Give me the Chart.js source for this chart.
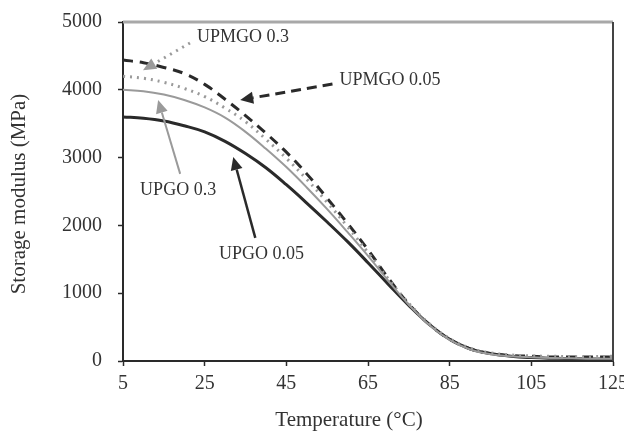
<!DOCTYPE html>
<html>
<head>
<meta charset="utf-8">
<script src="https://cdn.jsdelivr.net/npm/chart.js@4.4.0/dist/chart.umd.min.js"></script>
<style>
  html, body { margin: 0; padding: 0; background: #fff; }
  #wrap { width: 624px; height: 431px; position: relative; }
</style>
</head>
<body>
<div id="wrap"><canvas id="dma"></canvas></div>
<script>
'use strict';

// ─── DATA ────────────────────────────────────────────────────────────────────
const temps    = [5, 10, 15, 20, 25, 30, 35, 40, 45, 50, 55, 60, 65, 70, 75, 80, 85, 90, 95, 100, 105, 110, 115, 120, 125];
const upgo005  = [3600, 3580, 3540, 3470, 3380, 3240, 3060, 2850, 2600, 2330, 2050, 1760, 1450, 1130, 820, 540, 320, 180, 110, 70, 50, 40, 35, 30, 30];
const upgo03   = [4000, 3980, 3930, 3850, 3740, 3590, 3380, 3130, 2860, 2560, 2240, 1900, 1550, 1180, 830, 530, 310, 170, 100, 70, 55, 45, 40, 35, 35];
const upmgo03  = [4200, 4170, 4110, 4020, 3900, 3730, 3530, 3270, 2990, 2680, 2340, 1980, 1600, 1210, 850, 550, 330, 190, 120, 90, 75, 70, 65, 65, 70];
const upmgo005 = [4440, 4400, 4330, 4240, 4080, 3860, 3620, 3360, 3080, 2760, 2400, 2030, 1640, 1220, 840, 540, 320, 180, 110, 80, 70, 60, 60, 60, 60];
const xTicks   = [5, 25, 45, 65, 85, 105, 125];
const yTicks   = [0, 1000, 2000, 3000, 4000, 5000];

const SERIF = "'Liberation Serif', 'DejaVu Serif', serif";
const INK = '#2a2a2a';
const GREY = '#9a9a9a';
const TEXT = '#333';

const pts = vals => temps.map((t, i) => ({ x: t, y: vals[i] }));

// callouts: text anchor and arrow (tail -> head) in data units
const CALLOUTS = [
  { text: 'UPMGO 0.3',  tx: 34.4, ty: 4780, align: 'center', from: [21.4, 4690], to: [9.9, 4290],  color: GREY, width: 3,   dash: [2, 5] },
  { text: 'UPMGO 0.05', tx: 58.0, ty: 4145, align: 'left',   from: [56.3, 4085], to: [33.7, 3850], color: INK,  width: 3,   dash: [10, 6] },
  { text: 'UPGO 0.3',   tx: 18.5, ty: 2520, align: 'center', from: [19.0, 2760], to: [13.6, 3850], color: GREY, width: 2,   dash: [] },
  { text: 'UPGO 0.05',  tx: 38.9, ty: 1580, align: 'center', from: [37.4, 1815], to: [32.0, 3010], color: INK,  width: 2.5, dash: [] }
];

// ─── PLUGINS ─────────────────────────────────────────────────────────────────
// plot frame (grey top edge, dark right edge) + axis titles placed off-centre like the original
const frame = {
  id: 'frame',
  afterDatasetsDraw(chart) {
    const { ctx, chartArea: a } = chart;
    ctx.save();
    ctx.lineWidth = 3;
    ctx.strokeStyle = '#a8a8a8';
    ctx.beginPath(); ctx.moveTo(a.left, a.top); ctx.lineTo(a.right, a.top); ctx.stroke();
    ctx.lineWidth = 2;
    ctx.strokeStyle = '#444';
    ctx.beginPath(); ctx.moveTo(a.right, a.top); ctx.lineTo(a.right, a.bottom); ctx.stroke();

    ctx.font = '21px ' + SERIF;
    ctx.fillStyle = TEXT;
    ctx.textAlign = 'center';
    ctx.textBaseline = 'middle';
    ctx.fillText('Temperature (°C)', a.left + 226, a.bottom + 59);
    ctx.translate(19, a.top + 172);
    ctx.rotate(-Math.PI / 2);
    ctx.fillText('Storage modulus (MPa)', 0, 0);
    ctx.restore();
  }
};

const callouts = {
  id: 'callouts',
  afterDatasetsDraw(chart) {
    const { ctx, scales: { x, y } } = chart;
    ctx.save();
    CALLOUTS.forEach(c => {
      const x0 = x.getPixelForValue(c.from[0]), y0 = y.getPixelForValue(c.from[1]);
      const x1 = x.getPixelForValue(c.to[0]),   y1 = y.getPixelForValue(c.to[1]);
      const ang = Math.atan2(y1 - y0, x1 - x0);
      const head = 13, half = 6;
      const bx = x1 - Math.cos(ang) * head, by = y1 - Math.sin(ang) * head;
      ctx.strokeStyle = c.color;
      ctx.fillStyle = c.color;
      ctx.lineWidth = c.width;
      ctx.setLineDash(c.dash);
      ctx.beginPath(); ctx.moveTo(x0, y0); ctx.lineTo(bx, by); ctx.stroke();
      ctx.setLineDash([]);
      ctx.beginPath();
      ctx.moveTo(x1, y1);
      ctx.lineTo(bx + Math.sin(ang) * half, by - Math.cos(ang) * half);
      ctx.lineTo(bx - Math.sin(ang) * half, by + Math.cos(ang) * half);
      ctx.closePath(); ctx.fill();

      ctx.font = '18px ' + SERIF;
      ctx.fillStyle = TEXT;
      ctx.textAlign = c.align;
      ctx.textBaseline = 'middle';
      ctx.fillText(c.text, x.getPixelForValue(c.tx), y.getPixelForValue(c.ty));
    });
    ctx.restore();
  }
};

// ─── CHART ───────────────────────────────────────────────────────────────────
function line(label, vals, color, width, dash) {
  return {
    label, data: pts(vals),
    borderColor: color, backgroundColor: color,
    borderWidth: width, borderDash: dash,
    pointRadius: 0, tension: 0.4, fill: false
  };
}

new Chart(document.getElementById('dma'), {
  type: 'line',
  data: {
    datasets: [
      line('UPGO 0.3', upgo03, GREY, 2, []),
      line('UPMGO 0.3', upmgo03, GREY, 3, [2, 5]),
      line('UPGO 0.05', upgo005, INK, 3, []),
      line('UPMGO 0.05', upmgo005, INK, 3, [10, 7])
    ]
  },
  options: {
    responsive: true,
    maintainAspectRatio: false,
    animation: false,
    layout: { padding: { top: 22, right: 11, left: 0, bottom: 0 } },
    plugins: { legend: { display: false }, tooltip: { enabled: false } },
    scales: {
      x: {
        type: 'linear', min: 5, max: 125,
        afterBuildTicks: s => { s.ticks = xTicks.map(v => ({ value: v })); },
        afterFit: s => { s.height = 70; s.paddingLeft = 0; s.paddingRight = 0; },
        grid: { drawOnChartArea: false, tickLength: 5, color: INK, tickWidth: 1.5 },
        border: { color: INK, width: 2 },
        ticks: { color: TEXT, padding: 6, maxRotation: 0, font: { family: SERIF, size: 20 }, callback: v => String(v) }
      },
      y: {
        min: 0, max: 5000,
        afterBuildTicks: s => { s.ticks = yTicks.map(v => ({ value: v })); },
        afterFit: s => { s.width = 123; s.paddingTop = 0; s.paddingBottom = 0; },
        grid: { drawOnChartArea: false, tickLength: 5, color: INK, tickWidth: 1.5 },
        border: { color: INK, width: 2 },
        ticks: { color: TEXT, padding: 16, font: { family: SERIF, size: 20 }, callback: v => String(v) }
      }
    }
  },
  plugins: [frame, callouts]
});
</script>
</body>
</html>
